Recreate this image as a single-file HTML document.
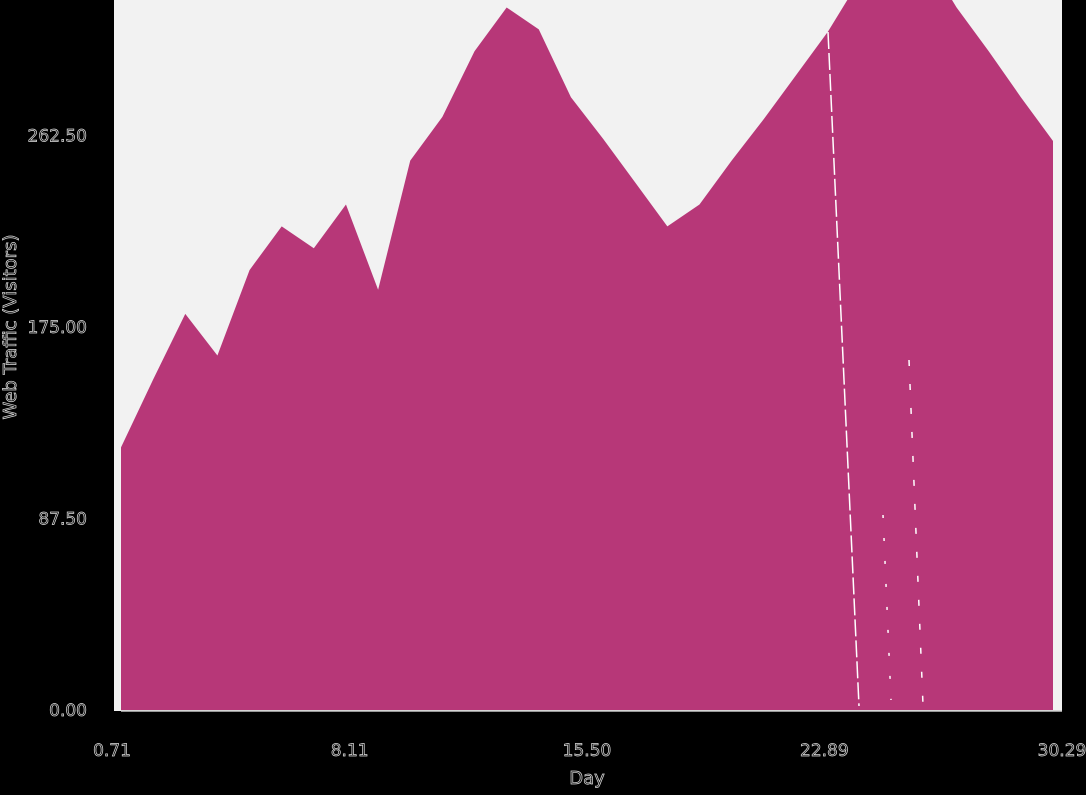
<!DOCTYPE html>
<html><head><meta charset="utf-8"><style>
html,body{margin:0;padding:0;background:#000;}
svg text{font-family:"DejaVu Sans","Liberation Sans",sans-serif;fill:#111;stroke:#ddd;stroke-width:0.7px;}
</style></head><body>
<svg id="chart" width="1086" height="790">
<defs><clipPath id="clip"><rect x="114" y="0" width="948" height="711"/></clipPath></defs>
<rect x="0" y="0" width="1086" height="790" fill="#000"/>
<rect x="114" y="0" width="948" height="711" fill="#f2f2f2"/>
<g id="areaG" clip-path="url(#clip)"></g>
<g id="ann"></g>
<line x1="121" y1="711" x2="1062" y2="711" stroke="#ccc" stroke-width="1.5"/>
<g id="xt"></g><g id="yt"></g>
<text x="587" y="784" text-anchor="middle" font-size="18">Day</text>
<text transform="translate(16,327) rotate(-90)" text-anchor="middle" font-size="18">Web Traffic (Visitors)</text>
</svg>
<script>
const days=[1,2,3,4,5,6,7,8,9,10,11,12,13,14,15,16,17,18,19,20,21,22,23,24,25,26,27,28,29,30];
const visitors=[120,151,181,162,201,221,211,231,192,251,271,301,321,311,280,261,241,221,231,251,270,290,310,334,350,345,321,301,280,260];
const xTicks=[0.71,8.11,15.50,22.89,30.29];
const xTickLabels=["0.71","8.11","15.50","22.89","30.29"];
const yTicks=[0,87.5,175,262.5];
const yTickLabels=["0.00","87.50","175.00","262.50"];
const NS="http://www.w3.org/2000/svg";
const x=d=>121+(d-1)*(1053-121)/29;
const xAxis=t=>112+(t-0.71)*(950/29.58);
const y=v=>710-v*383/175;
let dstr=`M${x(days[0])},${y(0)}`;
days.forEach((d,i)=>{dstr+=` L${x(d)},${y(visitors[i])}`;});
dstr+=` L${x(days[days.length-1])},${y(0)} Z`;
const p=document.createElementNS(NS,'path');
p.setAttribute('d',dstr);p.setAttribute('fill','#b73778');


document.getElementById('areaG').appendChild(p);
const anns=[[828,32,859,706,"17 4"],[883,515,891,700,"3 20"],[909,360,923,705,"6 18"]];
anns.forEach(a=>{const l=document.createElementNS(NS,'line');
l.setAttribute('x1',a[0]);l.setAttribute('y1',a[1]);l.setAttribute('x2',a[2]);l.setAttribute('y2',a[3]);
l.setAttribute('stroke','#fff');l.setAttribute('stroke-width','1.5');l.setAttribute('stroke-dasharray',a[4]);


document.getElementById('ann').appendChild(l);});
xTicks.forEach((t,i)=>{const tx=document.createElementNS(NS,'text');
tx.setAttribute('x',xAxis(t));tx.setAttribute('y',756);tx.setAttribute('text-anchor','middle');tx.setAttribute('font-size','17');
tx.textContent=xTickLabels[i];


document.getElementById('xt').appendChild(tx);});
yTicks.forEach((t,i)=>{const tx=document.createElementNS(NS,'text');
tx.setAttribute('x',87);tx.setAttribute('y',y(t)+6);tx.setAttribute('text-anchor','end');tx.setAttribute('font-size','17');
tx.textContent=yTickLabels[i];


document.getElementById('yt').appendChild(tx);});
</script>
</body></html>
